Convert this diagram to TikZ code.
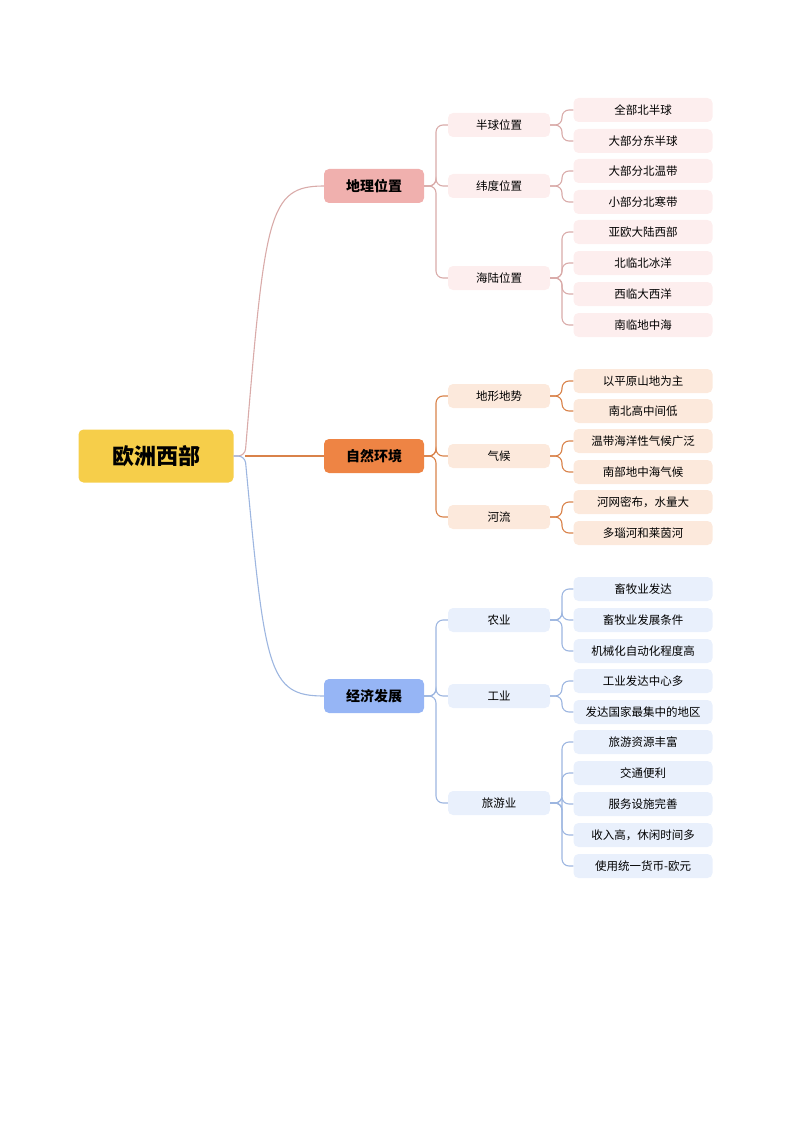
\documentclass[tikz,border=0pt]{standalone}
\usepackage{fontspec}
\setmainfont{Noto Sans CJK SC}
\definecolor{rootc}{HTML}{F6CE4A}
\definecolor{pinkc}{HTML}{F0B0AE}
\definecolor{pinkl}{HTML}{FDEEEE}
\definecolor{pinke}{HTML}{D9ABA9}
\definecolor{orangec}{HTML}{EE8444}
\definecolor{orangel}{HTML}{FCE9DC}
\definecolor{orangee}{HTML}{D9824A}
\definecolor{bluec}{HTML}{96B5F5}
\definecolor{bluel}{HTML}{E9F0FC}
\definecolor{bluee}{HTML}{9DB6E0}
\begin{document}
\begin{tikzpicture}[x=1pt,y=-1pt,
          rootbox/.style={rectangle, rounded corners=5pt, fill=rootc, minimum width=155pt,
            minimum height=53pt, font=\fontsize{22}{26}\selectfont\bfseries},
          mainbox/.style={rectangle, rounded corners=5pt, minimum width=100pt,
            minimum height=34pt, font=\fontsize{14}{17}\selectfont\bfseries},
          subbox/.style={rectangle, rounded corners=5pt, minimum width=102pt,
            minimum height=24pt, font=\fontsize{11.5}{14}\selectfont},
          leafbox/.style={rectangle, rounded corners=5pt, minimum width=139pt,
            minimum height=24pt, font=\fontsize{11.5}{14}\selectfont},
          link/.style={line width=1.1pt, rounded corners=7pt}]

        \useasboundingbox (0,0) rectangle (794,1123);

        \node[rootbox] (root) at (156,456) {欧洲西部};

        \node[mainbox, fill=pinkc]   (geo) at (374,186) {地理位置};
        \node[mainbox, fill=orangec] (nat) at (374,456) {自然环境};
        \node[mainbox, fill=bluec]   (eco) at (374,696) {经济发展};

        \coordinate (hub) at (245,456);
        \draw[link, pinke]   (root.east) -- (hub) .. controls (265,215) and (268,186) .. (geo.west);
        \draw[link, orangee] (hub) -- (nat.west);
        \draw[link, bluee]   (root.east) -- (hub) .. controls (265,670) and (268,696) .. (eco.west);

        % geography
        \node[subbox, fill=pinkl] (hemi) at (499,125) {半球位置};
        \node[subbox, fill=pinkl] (lat)  at (499,186) {纬度位置};
        \node[subbox, fill=pinkl] (sea)  at (499,278) {海陆位置};
        \foreach \s in {hemi,lat,sea}
          \draw[link, pinke] (geo.east) -- (436,186) |- (\s.west);

        \node[leafbox, fill=pinkl] (g1) at (643,110) {全部北半球};
        \node[leafbox, fill=pinkl] (g2) at (643,141) {大部分东半球};
        \node[leafbox, fill=pinkl] (g3) at (643,171) {大部分北温带};
        \node[leafbox, fill=pinkl] (g4) at (643,202) {小部分北寒带};
        \node[leafbox, fill=pinkl] (g5) at (643,232) {亚欧大陆西部};
        \node[leafbox, fill=pinkl] (g6) at (643,263) {北临北冰洋};
        \node[leafbox, fill=pinkl] (g7) at (643,294) {西临大西洋};
        \node[leafbox, fill=pinkl] (g8) at (643,325) {南临地中海};
        \foreach \l in {g1,g2}
          \draw[link, pinke] (hemi.east) -- (562,125) |- (\l.west);
        \foreach \l in {g3,g4}
          \draw[link, pinke] (lat.east) -- (562,186) |- (\l.west);
        \foreach \l in {g5,g6,g7,g8}
          \draw[link, pinke] (sea.east) -- (562,278) |- (\l.west);

        % nature
        \node[subbox, fill=orangel] (relief) at (499,396) {地形地势};
        \node[subbox, fill=orangel] (clim)   at (499,456) {气候};
        \node[subbox, fill=orangel] (river)  at (499,517) {河流};
        \foreach \s in {relief,clim,river}
          \draw[link, orangee] (nat.east) -- (436,456) |- (\s.west);

        \node[leafbox, fill=orangel] (n1) at (643,381) {以平原山地为主};
        \node[leafbox, fill=orangel] (n2) at (643,411) {南北高中间低};
        \node[leafbox, fill=orangel] (n3) at (643,441) {温带海洋性气候广泛};
        \node[leafbox, fill=orangel] (n4) at (643,472) {南部地中海气候};
        \node[leafbox, fill=orangel] (n5) at (643,502) {河网密布，水量大};
        \node[leafbox, fill=orangel] (n6) at (643,533) {多瑙河和莱茵河};
        \foreach \l in {n1,n2}
          \draw[link, orangee] (relief.east) -- (562,396) |- (\l.west);
        \foreach \l in {n3,n4}
          \draw[link, orangee] (clim.east) -- (562,456) |- (\l.west);
        \foreach \l in {n5,n6}
          \draw[link, orangee] (river.east) -- (562,517) |- (\l.west);

        % economy
        \node[subbox, fill=bluel] (agri) at (499,620) {农业};
        \node[subbox, fill=bluel] (ind)  at (499,696) {工业};
        \node[subbox, fill=bluel] (tour) at (499,803) {旅游业};
        \foreach \s in {agri,ind,tour}
          \draw[link, bluee] (eco.east) -- (436,696) |- (\s.west);

        \node[leafbox, fill=bluel] (e1)  at (643,589) {畜牧业发达};
        \node[leafbox, fill=bluel] (e2)  at (643,620) {畜牧业发展条件};
        \node[leafbox, fill=bluel] (e3)  at (643,651) {机械化自动化程度高};
        \node[leafbox, fill=bluel] (e4)  at (643,681) {工业发达中心多};
        \node[leafbox, fill=bluel] (e5)  at (643,712) {发达国家最集中的地区};
        \node[leafbox, fill=bluel] (e6)  at (643,742) {旅游资源丰富};
        \node[leafbox, fill=bluel] (e7)  at (643,773) {交通便利};
        \node[leafbox, fill=bluel] (e8)  at (643,804) {服务设施完善};
        \node[leafbox, fill=bluel] (e9)  at (643,835) {收入高，休闲时间多};
        \node[leafbox, fill=bluel] (e10) at (643,866) {使用统一货币-欧元};
        \foreach \l in {e1,e2,e3}
          \draw[link, bluee] (agri.east) -- (562,620) |- (\l.west);
        \foreach \l in {e4,e5}
          \draw[link, bluee] (ind.east) -- (562,696) |- (\l.west);
        \foreach \l in {e6,e7,e8,e9,e10}
          \draw[link, bluee] (tour.east) -- (562,803) |- (\l.west);

      \end{tikzpicture}
\end{document}
